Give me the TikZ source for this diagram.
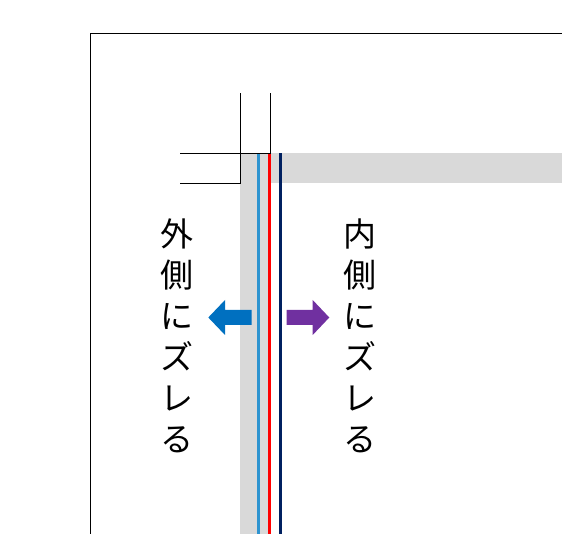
\documentclass[tikz,border=0pt]{standalone}
\usepackage{fontspec}
\newfontfamily\jpfont{Noto Sans CJK JP}
\definecolor{bandgray}{RGB}{217,217,217}
\definecolor{lineblue}{RGB}{46,148,208}
\definecolor{linered}{RGB}{255,0,0}
\definecolor{linenavy}{RGB}{0,32,96}
\definecolor{arrowblue}{RGB}{0,112,192}
\definecolor{arrowpurple}{RGB}{112,48,160}
\tikzset{
  thinblack/.style={draw=black, line width=1pt},
  colline/.style={line width=3pt},
  vtext/.style={font=\jpfont\fontsize{33}{41}\selectfont, align=center, inner sep=0pt},
}
\begin{document}
\begin{tikzpicture}[x=1pt,y=-1pt]
\useasboundingbox (0,0) rectangle (562,534);
% frame
\draw[thinblack] (90.7,534) -- (90.7,33.3) -- (562,33.3);
% gray bands
\fill[bandgray] (240.3,153.3) rectangle (562,183.3);
\fill[bandgray] (240.3,153.3) rectangle (267.7,534);
% coloured lines
\draw[colline, lineblue] (258.3,153.3) -- (258.3,534);
\draw[colline, linered] (269.3,153.3) -- (269.3,534);
\draw[colline, linenavy] (280.4,153.3) -- (280.4,534);
% black corner lines
\draw[thinblack] (240.3,93.3) -- (240.3,183.3) -- (180,183.3);
\draw[thinblack] (270.3,93.3) -- (270.3,153.3) -- (180,153.3);
% arrows
\fill[arrowblue] (208.3,317.5) -- (225,300) -- (225,310) -- (251.7,310) -- (251.7,325) -- (225,325) -- (225,335) -- cycle;
\fill[arrowpurple] (329.3,317.5) -- (312.7,300) -- (312.7,310) -- (286.7,310) -- (286.7,325) -- (312.7,325) -- (312.7,335) -- cycle;
% texts
\node[vtext] (outer) at (177,335.5) {外\\側\\に\\ズ\\レ\\る};
\node[vtext] (inner) at (360,335.5) {内\\側\\に\\ズ\\レ\\る};
\end{tikzpicture}
\end{document}
